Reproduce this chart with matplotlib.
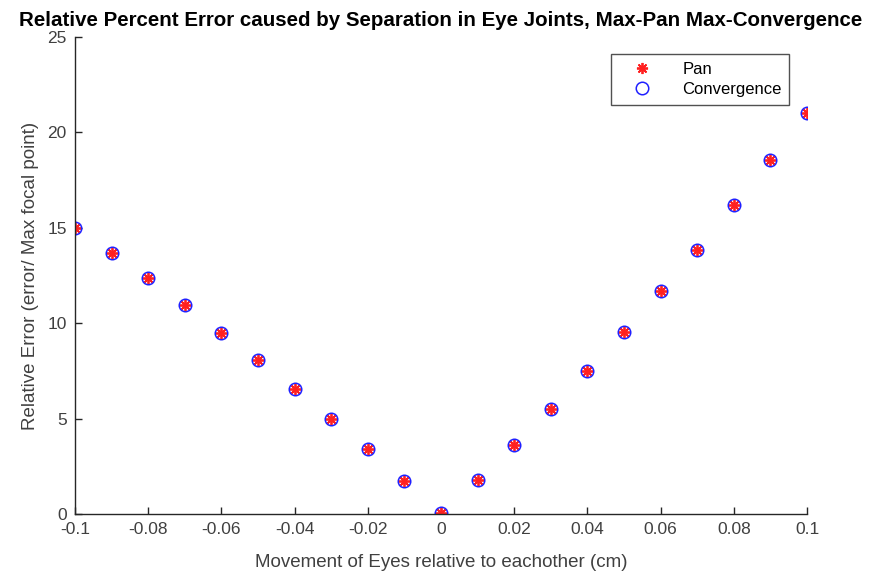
import matplotlib
matplotlib.use("Agg")
import matplotlib.pyplot as plt

x_vals = [-0.10, -0.09, -0.08, -0.07, -0.06, -0.05, -0.04, -0.03, -0.02, -0.01,
          0.00, 0.01, 0.02, 0.03, 0.04, 0.05, 0.06, 0.07, 0.08, 0.09, 0.10]
pan_err = [15.0, 13.68, 12.37, 10.98, 9.51, 8.05, 6.53, 4.99, 3.40, 1.71,
           0.05, 1.80, 3.61, 5.51, 7.49, 9.54, 11.67, 13.85, 16.18, 18.53, 21.03]
conv_err = [15.0, 13.68, 12.37, 10.98, 9.51, 8.05, 6.53, 4.99, 3.40, 1.71,
            0.05, 1.80, 3.61, 5.51, 7.49, 9.54, 11.67, 13.85, 16.18, 18.53, 21.03]
x_ticks = [-0.1, -0.08, -0.06, -0.04, -0.02, 0, 0.02, 0.04, 0.06, 0.08, 0.1]
x_ticklabels = ["-0.1", "-0.08", "-0.06", "-0.04", "-0.02", "0", "0.02", "0.04", "0.06", "0.08", "0.1"]
y_ticks = [0, 5, 10, 15, 20, 25]

plt.rcParams['font.family'] = ['Liberation Sans', 'DejaVu Sans']

fig = plt.figure(figsize=(8.72, 5.76), dpi=100)
ax = fig.add_axes([75/872, 62/576, (807-75)/872, (514-37)/576])

ax.plot(x_vals, pan_err, linestyle='none', marker=(8, 2, 0), color='#ff2020',
        markersize=8, markeredgewidth=1.3, label='Pan')
ax.plot(x_vals, conv_err, linestyle='none', marker='o', markerfacecolor='none',
        markeredgecolor='#2020ff', markersize=9, markeredgewidth=1.1, label='Convergence')

ax.set_xlim(-0.1, 0.1)
ax.set_ylim(0, 25)
ax.set_xticks(x_ticks)
ax.set_xticklabels(x_ticklabels)
ax.set_yticks(y_ticks)

for s in ['top', 'right']:
    ax.spines[s].set_visible(False)
for s in ['left', 'bottom']:
    ax.spines[s].set_color('#262626')
    ax.spines[s].set_linewidth(1.0)
ax.tick_params(direction='in', length=5, width=1.0, colors='#262626',
               labelsize=12.5, labelcolor='#404040', pad=6)

ax.set_title('Relative Percent Error caused by Separation in Eye Joints, Max-Pan Max-Convergence',
             fontsize=14.8, fontweight='bold', pad=8)
ax.set_xlabel('Movement of Eyes relative to eachother (cm)', fontsize=13.5, color='#404040', labelpad=12)
ax.set_ylabel('Relative Error (error/ Max focal point)', fontsize=13.5, color='#404040', labelpad=6)

leg = ax.legend(loc='upper right', bbox_to_anchor=(789/872, 522/576),
                bbox_transform=fig.transFigure, frameon=True, borderaxespad=0,
                fancybox=False, edgecolor='#262626', fontsize=12,
                borderpad=0.45, handletextpad=1.0, handlelength=2.8, labelspacing=0.35)
leg.get_frame().set_linewidth(1.0)

fig.savefig('out.png', dpi=100)
